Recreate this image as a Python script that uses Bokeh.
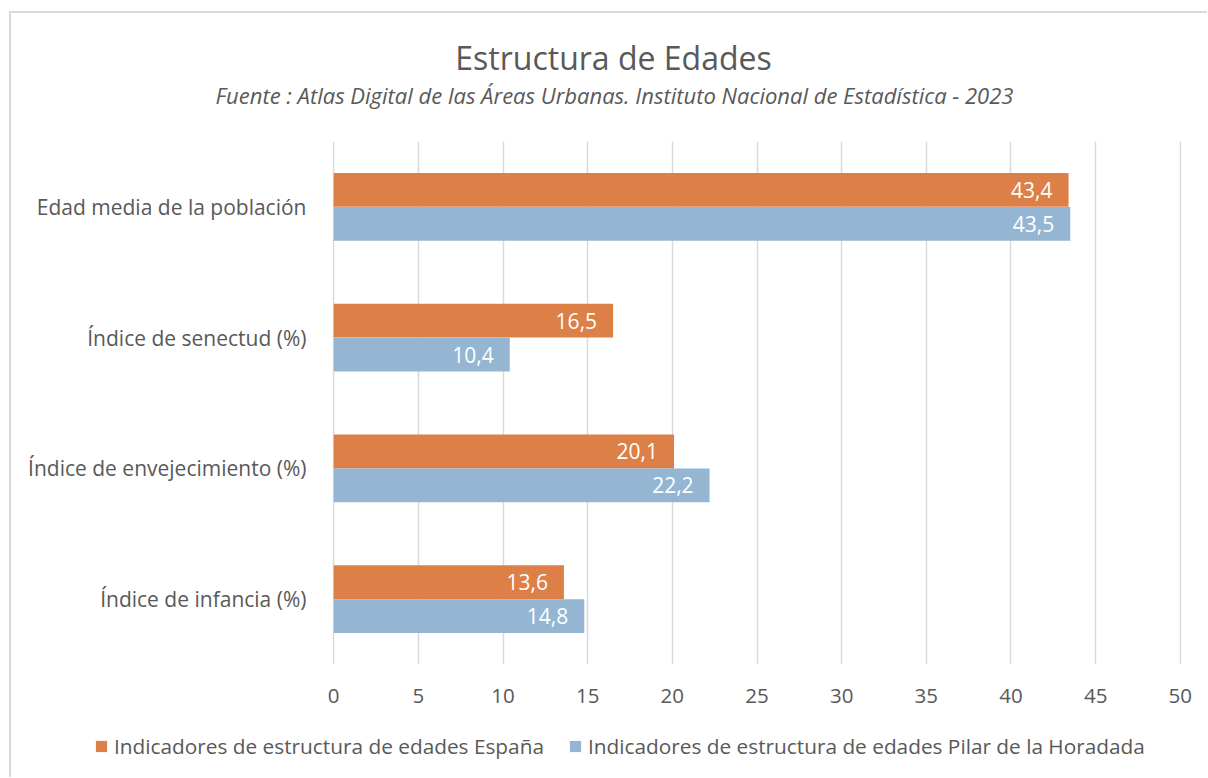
from bokeh.plotting import figure
from bokeh.layouts import column
from bokeh.models import ColumnDataSource, FactorRange, Range1d, Legend, LegendItem, FixedTicker
from bokeh.transform import dodge
from bokeh.core.properties import value
from bokeh.embed import file_html
from bokeh.resources import INLINE

categories = ["Edad media de la población", "Índice de senectud (%)",
              "Índice de envejecimiento (%)", "Índice de infancia (%)"]
espana = [43.4, 16.5, 20.1, 13.6]
pilar = [43.5, 10.4, 22.2, 14.8]
series_names = ["Indicadores de estructura de edades España",
                "Indicadores de estructura de edades Pilar de la Horadada"]
x_ticks = [0, 5, 10, 15, 20, 25, 30, 35, 40, 45, 50]
title_text = "Estructura de Edades"
subtitle_text = "Fuente : Atlas Digital de las Áreas Urbanas. Instituto Nacional de Estadística - 2023"

ORANGE = "#DD8047"
BLUE = "#94B6D2"
GREY = "#595959"
FONT = "Open Sans"
W = 1196

def fmt(v):
    return f"{v:.1f}".replace(".", ",")

def bare(fig):
    fig.xaxis.visible = False
    fig.yaxis.visible = False
    fig.xgrid.visible = False
    fig.ygrid.visible = False
    fig.outline_line_color = None
    fig.min_border = 0
    fig.min_border_left = 0
    fig.min_border_right = 0
    fig.min_border_top = 0
    fig.min_border_bottom = 0
    fig.frame_align = False

src = ColumnDataSource(dict(
    cat=categories,
    esp=espana,
    pil=pilar,
    esp_lbl=[fmt(v) for v in espana],
    pil_lbl=[fmt(v) for v in pilar],
))

# ---- header with title and subtitle ----
HH = 128
header = figure(width=W, height=HH, output_backend="svg", toolbar_location=None,
                x_range=Range1d(0, W), y_range=Range1d(HH, 0))
bare(header)
header.text(x=[602], y=[44], text=[title_text], text_align="center", text_baseline="middle",
            text_color=GREY, text_font=value(FONT), text_font_size="32px")
header.text(x=[603], y=[81], text=[subtitle_text], text_align="center", text_baseline="middle",
            text_color=GREY, text_font=value(FONT), text_font_size="22px", text_font_style="italic")

# ---- main chart ----
p = figure(width=W, height=579, output_backend="svg", toolbar_location=None,
           y_range=FactorRange(factors=list(reversed(categories))),
           x_range=Range1d(-0.07, 50.07),
           min_border_left=321, min_border_right=26, min_border_top=0, min_border_bottom=56)
p.outline_line_color = None
p.frame_align = False

p.hbar(y=dodge("cat", 0.13, range=p.y_range), left=0, right="esp", height=0.26,
       source=src, fill_color=ORANGE, line_color=None)
p.hbar(y=dodge("cat", -0.13, range=p.y_range), left=0, right="pil", height=0.26,
       source=src, fill_color=BLUE, line_color=None)

p.text(x="esp", y=dodge("cat", 0.13, range=p.y_range), text="esp_lbl", source=src,
       text_align="right", text_baseline="middle", x_offset=-16, text_color="white",
       text_font=value(FONT), text_font_size="21px")
p.text(x="pil", y=dodge("cat", -0.13, range=p.y_range), text="pil_lbl", source=src,
       text_align="right", text_baseline="middle", x_offset=-16, text_color="white",
       text_font=value(FONT), text_font_size="21px")

p.xaxis.ticker = FixedTicker(ticks=x_ticks)
p.xaxis.axis_line_color = None
p.xaxis.major_tick_line_color = None
p.xaxis.major_tick_out = 0
p.xaxis.major_tick_in = 0
p.xaxis.minor_tick_line_color = None
p.xaxis.major_label_text_color = GREY
p.xaxis.major_label_text_font = FONT
p.xaxis.major_label_text_font_size = "20.5px"
p.xaxis.major_label_standoff = 24

p.yaxis.axis_line_color = None
p.yaxis.major_tick_line_color = None
p.yaxis.major_tick_out = 0
p.yaxis.major_tick_in = 0
p.yaxis.minor_tick_line_color = None
p.yaxis.major_label_text_color = GREY
p.yaxis.major_label_text_font = FONT
p.yaxis.major_label_text_font_size = "21px"
p.yaxis.major_label_standoff = 26

p.xgrid.grid_line_color = "#D9D9D9"
p.xgrid.grid_line_width = 1.5
p.xgrid.ticker = FixedTicker(ticks=x_ticks)
p.ygrid.grid_line_color = None

# ---- footer with legend (swatch renderers lie outside the footer's view) ----
FH = 57
footer = figure(width=W, height=FH, output_backend="svg", toolbar_location=None,
                x_range=Range1d(-20, -10), y_range=Range1d(-20, -10))
bare(footer)
f1 = footer.hbar(y=0, left=0, right="esp", height=0.5, source=src,
                 fill_color=ORANGE, line_color=None)
f2 = footer.hbar(y=0, left=0, right="pil", height=0.5, source=src,
                 fill_color=BLUE, line_color=None)
legend = Legend(items=[LegendItem(label=series_names[0], renderers=[f1], index=0),
                       LegendItem(label=series_names[1], renderers=[f2], index=0)],
                orientation="horizontal", location=(83, 17),
                padding=0, margin=0, spacing=24, label_standoff=6,
                glyph_width=14, glyph_height=14,
                label_text_font=FONT, label_text_font_size="20.8px", label_text_color=GREY,
                border_line_color=None, background_fill_alpha=0)
footer.add_layout(legend, "center")

layout = column(header, p, footer, spacing=0,
                styles={"margin-left": "9px", "margin-top": "11px",
                        "border-left": "2px solid #D9D9D9", "border-top": "2px solid #D9D9D9"})

open("out.html", "w").write(file_html(layout, INLINE))
